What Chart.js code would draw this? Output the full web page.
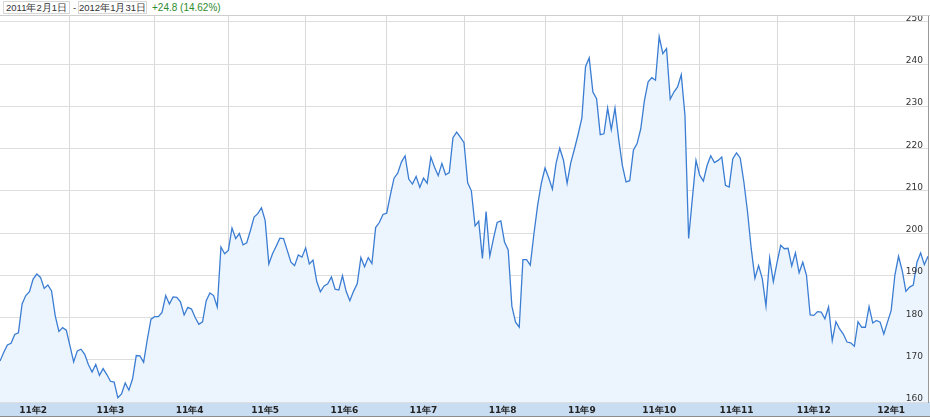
<!DOCTYPE html>
<html>
<head>
<meta charset="utf-8">
<script src="https://cdn.jsdelivr.net/npm/chart.js@4.4.1/dist/chart.umd.min.js"></script>
<style>
  body { margin: 0; background: #fff; }
  #hdr { position: absolute; left: 0; top: 0; width: 930px; height: 15px; border-bottom: 1px solid #cfcfcf;
         font: 9.5px "Liberation Sans", Arial, sans-serif; color: #333; white-space: nowrap; }
  #hdr .box { position: absolute; top: 1px; height: 13px; line-height: 12px; border: 1px solid #d6d6d6;
              box-sizing: border-box; text-align: center; overflow: hidden; }
  #d1 { left: 3px; width: 67px; }
  #dash { position: absolute; left: 73px; top: 2px; }
  #d2 { left: 78px; width: 69px; }
  #chg { position: absolute; left: 152px; top: 2px; color: #2e8b2e; font-size: 10px; }
  #wrap { position: absolute; left: 0; top: 16px; width: 930px; height: 401px; }
</style>
</head>
<body>
<div id="hdr">
  <span class="box" id="d1">2011年2月1日</span>
  <span id="dash">-</span>
  <span class="box" id="d2">2012年1月31日</span>
  <span id="chg">+24.8 (14.62%)</span>
</div>
<div id="wrap"><canvas id="grafico" width="930" height="401"></canvas></div>
<script>
// meses e dias de pregao de cada um
const meses = ['11年2', '11年3', '11年4', '11年5', '11年6', '11年7', '11年8', '11年9', '11年10', '11年11', '11年12', '12年1'];
const diasPregao = [19, 23, 20, 21, 22, 21, 22, 21, 21, 21, 21, 21];
const yTicks = [160, 170, 180, 190, 200, 210, 220, 230, 240, 250];

// fechamento diario
const precos = [
  169.7, 171.7, 173.5, 173.9, 176.0, 176.4, 183.2, 185.2, 186.1, 189.1,
  190.3, 189.5, 186.9, 187.7, 186.3, 180.4, 176.7, 177.6, 177.0, 173.3,
  169.5, 172.1, 172.5, 171.3, 168.9, 167.1, 168.9, 166.3, 167.9, 166.5,
  164.9, 164.7, 161.0, 161.9, 164.5, 162.8, 165.5, 171.0, 170.9, 169.4,
  174.8, 179.6, 180.2, 180.2, 181.2, 185.2, 183.2, 184.9, 184.8, 183.7,
  180.6, 182.4, 182.0, 180.0, 178.4, 179.0, 184.0, 185.8, 185.2, 182.5,
  196.7, 195.1, 195.9, 201.2, 198.7, 199.9, 197.2, 197.7, 200.6, 203.8,
  204.6, 206.0, 203.0, 192.7, 195.1, 196.9, 198.8, 198.7, 195.9, 193.1,
  192.3, 194.8, 194.3, 196.5, 192.7, 193.6, 188.6, 186.1, 187.5, 188.0,
  189.6, 186.7, 186.5, 189.9, 186.2, 184.0, 186.2, 188.0, 194.2, 192.0,
  194.2, 192.8, 201.3, 202.5, 204.4, 204.7, 209.0, 213.0, 214.2, 216.8,
  218.3, 212.8, 211.6, 213.4, 210.8, 213.0, 211.8, 218.0, 215.6, 213.6,
  216.5, 213.8, 214.3, 222.6, 223.9, 222.7, 221.4, 211.9, 210.0, 201.7,
  202.8, 194.0, 205.1, 194.5, 198.7, 202.5, 202.9, 197.9, 196.0, 182.7,
  178.9, 177.7, 193.7, 193.7, 192.4, 199.9, 206.6, 211.8, 215.4, 213.1,
  210.4, 216.5, 220.1, 217.3, 211.8, 216.7, 219.9, 223.4, 227.2, 239.4,
  241.5, 233.4, 231.8, 223.3, 223.5, 229.6, 224.5, 229.6, 222.3, 216.0,
  212.1, 212.4, 219.6, 221.2, 224.7, 231.4, 235.8, 236.8, 236.2, 246.5,
  242.5, 243.7, 231.7, 233.4, 234.6, 237.5, 227.9, 198.7, 208.1, 217.2,
  213.7, 212.3, 216.0, 218.3, 216.7, 217.2, 218.0, 211.3, 210.9, 217.6,
  219.0, 217.8, 212.1, 205.0, 196.3, 189.3, 192.3, 189.2, 182.7, 194.1,
  188.5, 193.0, 197.1, 196.3, 196.4, 192.2, 195.3, 190.6, 193.1, 190.0,
  180.6, 180.5, 181.4, 181.3, 179.7, 182.5, 174.5, 179.0, 177.3, 176.1,
  174.2, 174.0, 173.2, 179.0, 177.7, 177.7, 182.6, 178.7, 179.3, 178.9,
  176.1, 178.9, 181.7, 190.0, 194.5, 191.1, 186.2, 187.2, 187.7, 193.1,
  195.3, 192.5, 194.5
];

// inicio de cada mes (indice do pregao) e meio do mes p/ o rotulo
const inicios = [];
const meios = [];
let acc = 0;
diasPregao.forEach((d, i) => {
  if (i > 0) inicios.push(acc);
  meios.push(acc + d / 2 - 0.5);
  acc += d;
});

const faixaEixo = {
  id: 'faixaEixo',
  beforeDraw(chart) {
    const { ctx, chartArea, width, height } = chart;
    ctx.save();
    ctx.fillStyle = '#c8dcf2';
    ctx.fillRect(0, chartArea.bottom, width, height - chartArea.bottom);
    ctx.fillStyle = '#8c8c8c';
    ctx.fillRect(0, height - 1, width, 1);
    ctx.restore();
  },
  afterDraw(chart) {
    const { ctx, chartArea } = chart;
    const y = chart.scales.y;
    ctx.save();
    ctx.font = '9px "DejaVu Sans"';
    ctx.fillStyle = '#333';
    ctx.textAlign = 'right';
    ctx.textBaseline = 'alphabetic';
    y.ticks.forEach(t => {
      ctx.fillText(String(t.value), chartArea.right - 5, y.getPixelForValue(t.value) - 1);
    });
    ctx.restore();
  }
};

new Chart(document.getElementById('grafico').getContext('2d'), {
  type: 'line',
  data: {
    datasets: [{
      data: precos.map((v, i) => ({ x: i, y: v })),
      borderColor: '#3b7dd3',
      borderWidth: 1.3,
      backgroundColor: '#ecf5fd',
      fill: 'start',
      pointRadius: 0,
      tension: 0
    }]
  },
  options: {
    responsive: false,
    animation: false,
    layout: { padding: { left: 0, right: 2, top: 0, bottom: 0 } },
    plugins: { legend: { display: false }, tooltip: { enabled: false } },
    scales: {
      x: {
        type: 'linear',
        min: 0,
        max: precos.length - 1,
        afterBuildTicks: scale => {
          scale.ticks = inicios.concat(meios).sort((a, b) => a - b).map(v => ({ value: v }));
        },
        afterFit: scale => { scale.height = 15; },
        ticks: {
          autoSkip: false,
          maxRotation: 0,
          minRotation: 0,
          padding: 3,
          color: '#222',
          font: { family: 'DejaVu Sans', size: 9, weight: 'bold' },
          callback: v => {
            const k = meios.indexOf(v);
            return k >= 0 ? meses[k] : '';
          }
        },
        grid: {
          drawTicks: false,
          color: ctx => (ctx.tick && inicios.includes(ctx.tick.value)) ? '#d9d9d9' : 'rgba(0,0,0,0)'
        },
        border: { display: false }
      },
      y: {
        position: 'right',
        min: 160,
        max: 251.4,
        afterBuildTicks: scale => {
          scale.ticks = yTicks.map(v => ({ value: v }));
        },
        ticks: { display: false },
        grid: { drawTicks: false, color: '#dedede' },
        border: { display: true, color: '#9a9a9a' }
      }
    }
  },
  plugins: [faixaEixo]
});
</script>
</body>
</html>
